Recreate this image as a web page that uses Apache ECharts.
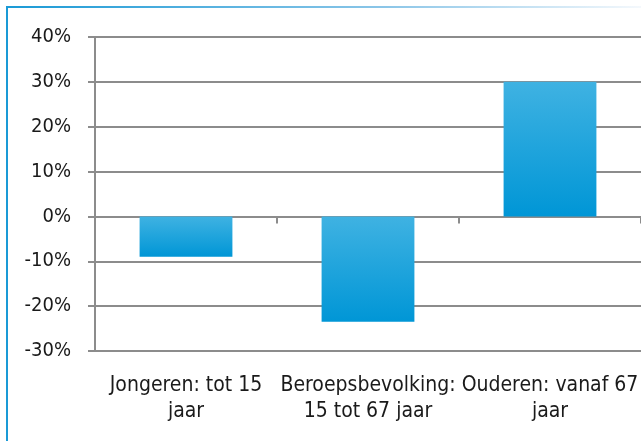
<!DOCTYPE html>
<html>
<head>
<meta charset="utf-8">
<script src="https://cdn.jsdelivr.net/npm/echarts@6/dist/echarts.min.js"></script>
<style>
  html, body { margin: 0; padding: 0; background: #fff; }
  #wrap { position: relative; width: 641px; height: 441px; overflow: hidden; }
  #main { position: absolute; left: 0; top: 0; width: 641px; height: 441px; }
  /* blauwe rand links en boven */
  .edgeLeft { position: absolute; left: 6px; top: 6px; width: 2px; height: 435px; background: #1a9ad6; }
  .edgeTop { position: absolute; left: 6px; top: 6px; width: 635px; height: 2px;
    background: linear-gradient(to right, #1a9ad6, #8cc6e8 60%, #f4f8fc); }
</style>
</head>
<body>
<div id="wrap">
  <div id="main"></div>
  <div class="edgeLeft"></div>
  <div class="edgeTop"></div>
</div>
<script>
  // gegevens
  var categories = ['Jongeren: tot 15\njaar', 'Beroepsbevolking:\n15 tot 67 jaar', 'Ouderen: vanaf 67\njaar'];
  var values = [-9, -23.5, 30];
  var yMin = -30, yMax = 40, yStep = 10;

  var chart = echarts.init(document.getElementById('main'));
  var font = '"Liberation Sans Narrow", "DejaVu Sans Condensed", sans-serif';

  var option = {
    animation: false,
    grid: { left: 95, right: -3, top: 37, bottom: 90 },
    xAxis: [
      {
        type: 'category',
        data: categories,
        axisLine: { show: false, onZero: false },
        axisTick: { show: false },
        axisLabel: { color: '#1a1a1a', fontSize: 21, fontFamily: font, margin: 22, lineHeight: 26, interval: 0 }
      },
      {
        type: 'category',
        data: categories,
        position: 'bottom',
        axisLine: { show: true, onZero: true, lineStyle: { color: '#8c8c8c', width: 2 } },
        axisTick: { show: true, length: 7, alignWithLabel: false, lineStyle: { color: '#8c8c8c', width: 2 } },
        axisLabel: { show: false }
      }
    ],
    yAxis: {
      type: 'value',
      min: yMin,
      max: yMax,
      interval: yStep,
      axisLine: { show: true, lineStyle: { color: '#8c8c8c', width: 2 } },
      axisTick: { show: true, length: 7, lineStyle: { color: '#8c8c8c', width: 2 } },
      splitLine: { lineStyle: { color: '#8c8c8c', width: 2 } },
      axisLabel: { color: '#1a1a1a', fontSize: 20, fontFamily: font, margin: 24, formatter: '{value}%' }
    },
    series: [{
      type: 'bar',
      xAxisIndex: 0,
      data: values,
      barWidth: '51%',
      itemStyle: {
        color: new echarts.graphic.LinearGradient(0, 0, 0, 1, [
          { offset: 0, color: '#3fb2e2' },
          { offset: 1, color: '#0096d6' }
        ])
      }
    }]
  };
  chart.setOption(option);
</script>
</body>
</html>
